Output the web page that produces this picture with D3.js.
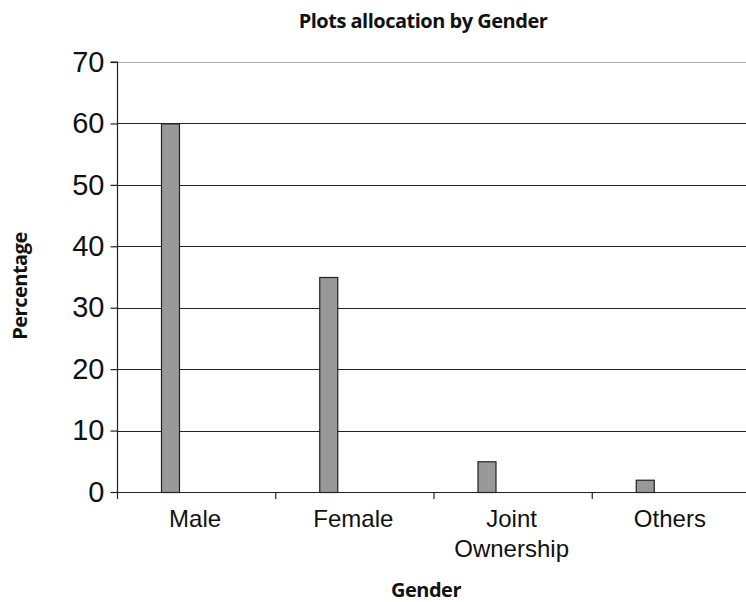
<!DOCTYPE html>
<html>
<head>
<meta charset="utf-8">
<script src="https://cdn.jsdelivr.net/npm/d3@7"></script>
<style>
  html, body { margin: 0; padding: 0; background: #fff; }
  svg { display: block; }
</style>
</head>
<body>
<svg id="chart" width="746" height="602"></svg>
<script>
// Plot allocation shares by gender of the holder
const categories = ["Male", "Female", "Joint Ownership", "Others"];
const categoryLines = [["Male"], ["Female"], ["Joint", "Ownership"], ["Others"]];
const percentage = [60, 35, 5, 2];
const yTicks = [0, 10, 20, 30, 40, 50, 60, 70];

const svg = d3.select("#chart");
const plotLeft = 117, plotRight = 750, plotTop = 62, plotBottom = 492;

const x = d3.scaleBand().domain(categories).range([plotLeft, plotRight]).padding(0);
const y = d3.scaleLinear().domain([0, 70]).range([plotBottom, plotTop]);

// bar sits in the first slot of each category band
const barOffset = 44, barWidth = 18;

// horizontal gridlines (top one is the lighter plot border)
svg.append("g").selectAll("line").data(yTicks.filter(d => d > 0)).join("line")
  .attr("x1", plotLeft).attr("x2", plotRight)
  .attr("y1", d => Math.round(y(d)) + 0.5).attr("y2", d => Math.round(y(d)) + 0.5)
  .attr("stroke", d => d === 70 ? "#a8a8a8" : "#222")
  .attr("stroke-width", 1.2);

// bars
svg.append("g").selectAll("rect").data(categories).join("rect")
  .attr("x", d => x(d) + barOffset + 0.5)
  .attr("y", (d, i) => y(percentage[i]) + 0.5)
  .attr("width", barWidth)
  .attr("height", (d, i) => y(0) - y(percentage[i]))
  .attr("fill", "#999")
  .attr("stroke", "#222")
  .attr("stroke-width", 1.2);

// y axis
const yAxis = d3.axisLeft(y).tickValues(yTicks).tickSize(7).tickPadding(6);
const gy = svg.append("g").attr("transform", `translate(${plotLeft + 0.5},0)`).call(yAxis);
gy.select(".domain").attr("stroke", "#222").attr("stroke-width", 1.2).attr("d", `M-7,${plotTop}H0V${plotBottom + 0.5}`);
gy.selectAll(".tick line").attr("stroke", "#222").attr("stroke-width", 1.2);
gy.selectAll(".tick text")
  .attr("font-family", "Liberation Sans, Arial, sans-serif")
  .attr("font-size", 29).attr("fill", "#111");

// x axis baseline and category boundary ticks
svg.append("line")
  .attr("x1", plotLeft).attr("x2", plotRight)
  .attr("y1", plotBottom + 0.5).attr("y2", plotBottom + 0.5)
  .attr("stroke", "#222").attr("stroke-width", 1.2);
svg.append("g").selectAll("line").data(categories).join("line")
  .attr("x1", d => x(d) + 0.5).attr("x2", d => x(d) + 0.5)
  .attr("y1", plotBottom).attr("y2", plotBottom + 7)
  .attr("stroke", "#222").attr("stroke-width", 1.2);

// category labels
const xl = svg.append("g").selectAll("text").data(categories).join("text")
  .attr("x", d => x(d) + x.bandwidth() / 2 - 1)
  .attr("y", 527)
  .attr("text-anchor", "middle")
  .attr("font-family", "Liberation Sans, Arial, sans-serif")
  .attr("font-size", 24).attr("fill", "#111");
xl.selectAll("tspan").data((d, i) => categoryLines[i]).join("tspan")
  .attr("x", function() { return d3.select(this.parentNode).attr("x"); })
  .attr("dy", (d, j) => j === 0 ? 0 : 30)
  .text(d => d);

// titles
const boldText = sel => sel
  .attr("text-anchor", "middle")
  .attr("font-family", "Open Sans, sans-serif").attr("font-weight", "bold")
  .attr("font-size", 20).attr("letter-spacing", -0.5).attr("fill", "#111");

svg.append("text").call(boldText)
  .attr("x", 423).attr("y", 28)
  .text("Plots allocation by Gender");

svg.append("text").call(boldText)
  .attr("x", 426).attr("y", 597)
  .text("Gender");

svg.append("text").call(boldText)
  .attr("transform", "translate(27,286) rotate(-90)")
  .text("Percentage");
</script>
</body>
</html>
